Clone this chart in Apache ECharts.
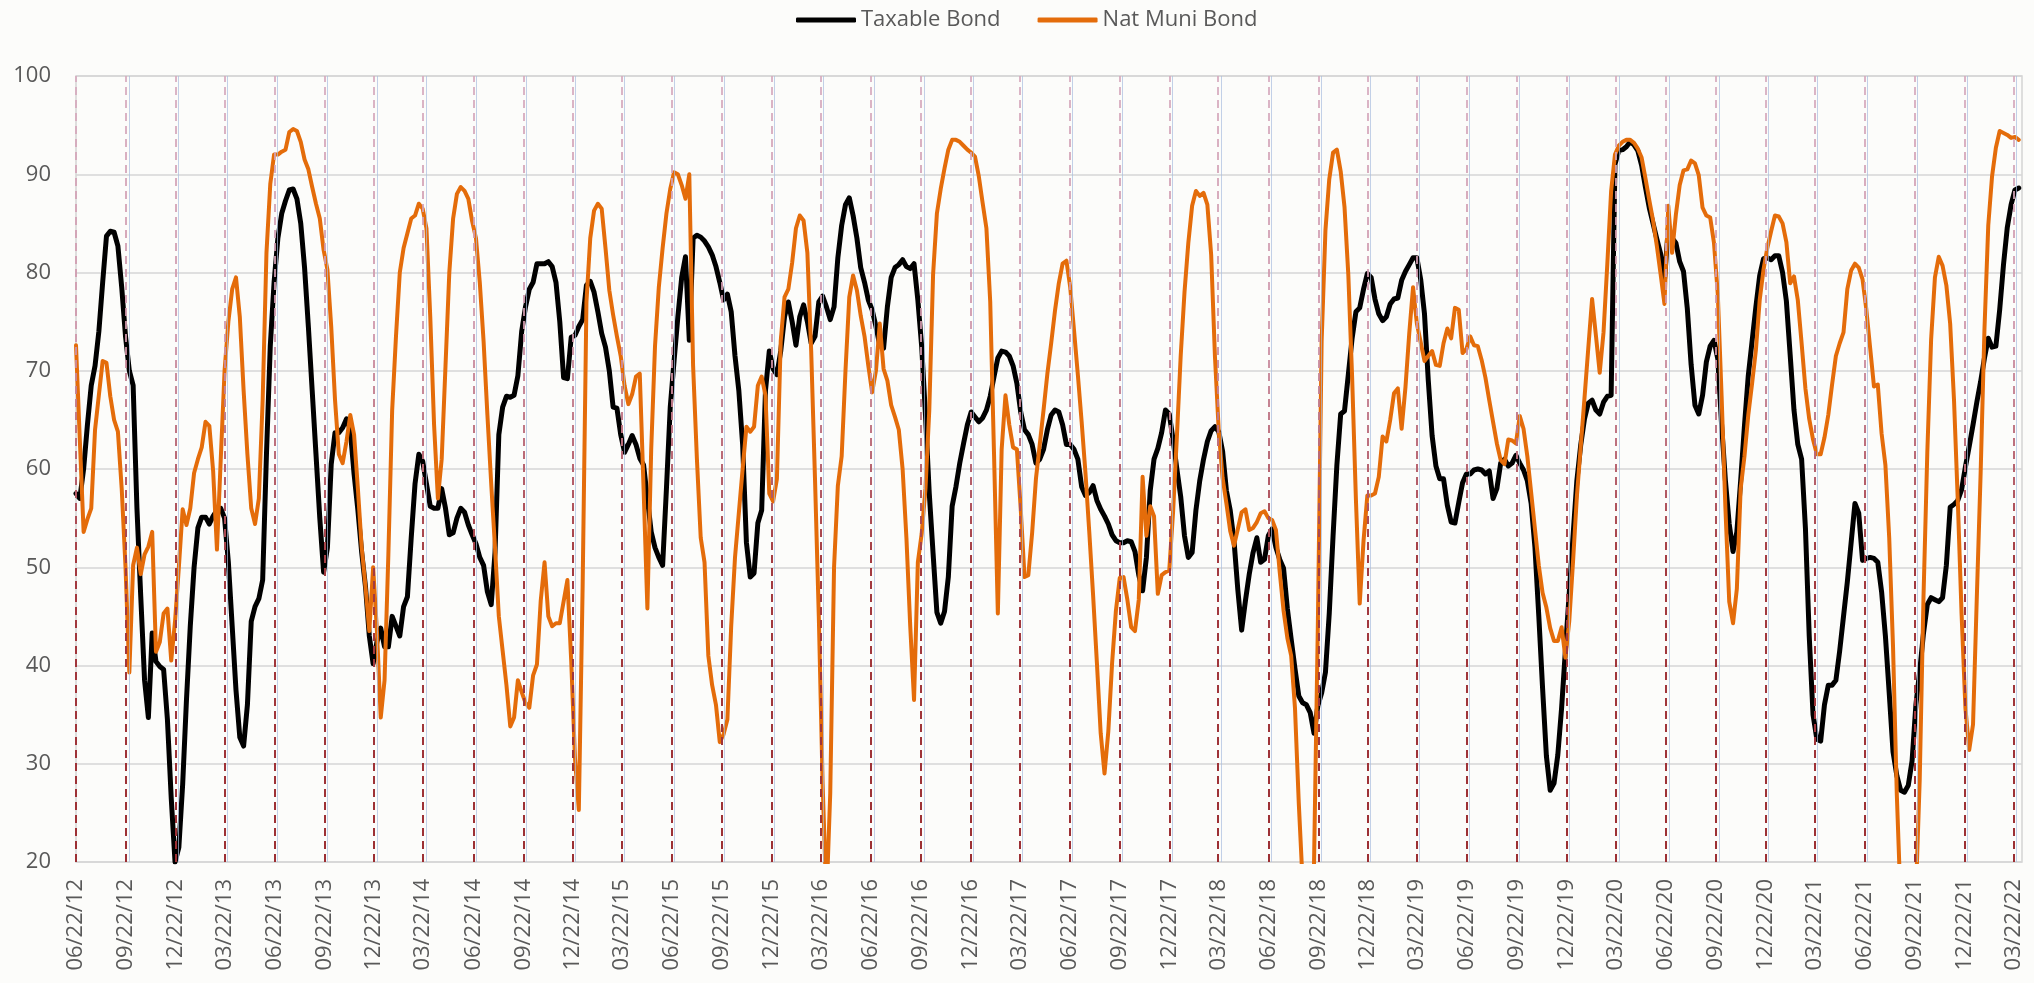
<!DOCTYPE html>
<html>
<head>
<meta charset="utf-8">
<script src="https://cdn.jsdelivr.net/npm/echarts@6/dist/echarts.min.js"></script>
<style>
html,body{margin:0;padding:0;background:#fcfcfa;}
#chart{width:2034px;height:983px;}
</style>
</head>
<body>
<div id="chart"></div>
<script>
// ---- data ----
const seriesNames = ['Taxable Bond', 'Nat Muni Bond'];
const firstWeek = '06/22/12';          // weekly observations start here
const axisEnd = '04/07/22';
const quarterLabels = ['06/22/12','09/22/12','12/22/12','03/22/13','06/22/13','09/22/13','12/22/13','03/22/14','06/22/14','09/22/14','12/22/14','03/22/15','06/22/15','09/22/15','12/22/15','03/22/16','06/22/16','09/22/16','12/22/16','03/22/17','06/22/17','09/22/17','12/22/17','03/22/18','06/22/18','09/22/18','12/22/18','03/22/19','06/22/19','09/22/19','12/22/19','03/22/20','06/22/20','09/22/20','12/22/20','03/22/21','06/22/21','09/22/21','12/22/21','03/22/22'];
const yTicks = [20,30,40,50,60,70,80,90,100];

const taxableBond = [
57.5,57.0,60,64.5,68.5,70.5,74,79,83.7,84.2,84.1,82.7,78.5,73.5,70,68.5,56,47,38.5,34.7,
43.3,40.4,39.9,39.6,34.5,26.5,20,21.5,27.9,36.5,44,50,54,55.1,55.1,54.4,55.2,55.8,56,55,
50.5,44,37.5,32.7,31.8,36,44.5,46,46.8,48.7,61.5,72.5,79,83.5,86,87.3,88.4,88.5,87.5,85,
80.5,74.5,68,61.5,55,49.5,52,60.5,63.7,63.7,64.2,65.1,64,59.5,55.8,51.5,48,43,40.2,42.4,
43.8,41.9,41.9,45,44,43,46,47,53,58.5,61.5,60.8,58.5,56.2,56,56,58,56,53.3,53.5,
55,56,55.6,54.3,53.3,52.4,51,50.2,47.5,46.2,51.5,63.5,66.3,67.4,67.3,67.5,69.5,74,76.5,78.3,
79,80.9,80.9,80.9,81.1,80.6,79,75,69.3,69.2,73.4,73.6,74.5,75.2,78.7,79.1,78,76,73.8,72.4,
70,66.3,66.2,63.5,61.7,62.5,63.4,62.5,61.1,60.4,57,53.6,52,51,50.2,58,66.3,71,75.5,79.5,
81.6,73.1,83.5,83.8,83.6,83.2,82.6,81.8,80.6,79,77.2,77.8,76,71.5,68,62.5,52.5,49,49.4,54.5,
55.8,68,72,70.2,69.6,72,75.5,77,75,72.6,75.5,76.7,75,72.8,73.5,77,77.6,76.5,75.2,76.5,
81.5,84.8,86.9,87.6,85.8,83.5,80.5,79,77.2,76.2,74.5,72.6,72.3,76.5,79.5,80.5,80.8,81.3,80.6,80.4,
80.9,77.2,72.5,65.5,57.5,51.4,45.4,44.3,45.5,49,56.2,58.2,60.6,62.6,64.5,65.8,65.3,64.8,65.2,66,
67.4,69.4,71.3,72,71.9,71.5,70.5,68.7,65.8,64,63.5,62.5,60.6,
61,62,64,65.5,66,65.8,64.5,62.5,62.5,62,
61,58.2,57.3,57.6,58.3,56.8,55.9,55.2,54.4,53.3,
52.7,52.5,52.5,52.7,52.6,51.6,49.2,47.6,51,57.8,
61,62.1,63.7,66,65.6,63,60,57.2,53.2,51,
51.5,55.8,58.8,61,62.8,63.9,64.3,63.8,61.8,57.8,
55.8,52.7,47.7,43.6,46.6,49.3,51.5,53,50.5,50.8,
53.2,53.9,52,50.8,49.9,45.8,42.7,39.7,36.9,36.2,
36,35.2,33.1,35.9,37.2,39.3,45.3,53.2,60.4,65.6,
65.9,69.6,73.3,76,76.4,78.3,79.9,79.5,77.3,75.8,
75.1,75.5,76.8,77.3,77.4,79.2,80.1,80.8,81.5,81.5,
79.3,75.8,69,63.4,60.3,59,59,56.3,54.6,54.5,
56.6,58.6,59.5,59.5,59.9,60,59.9,59.5,59.8,57,
58,60.6,61,60.3,60.6,61.4,60.6,59.9,58.8,56.5,
52,45.1,37.7,30.8,27.3,28,30.9,35.7,41.6,47.4,
53.2,58.8,62.4,65.1,66.7,67,66,65.6,66.8,67.4,
67.5,91,92.4,92.5,92.8,93.3,93,92.4,90.9,88.7,
86.6,85,83.4,81.9,79.2,84.5,83.5,83,81.1,80.1,
76.3,70.6,66.5,65.6,67.5,70.9,72.5,73.1,71.2,64.5,
58.8,54.4,51.6,53.6,58.8,64.4,69.5,73,76.5,79.7,
81.4,81.5,81.3,81.7,81.7,80,77.1,71.6,66,62.5,
61,54,43,35,32.5,32.3,36,38,38,38.5,
41.5,45,48.5,52.5,56.5,55.5,50.7,50.9,51,50.9,
50.5,47.5,43,37.2,31.2,28.8,27.3,27.1,27.8,30.3,
36,39.4,43.3,46.2,46.9,46.7,46.5,46.9,50.2,56.1,
56.4,56.8,57.9,60.2,62.3,64.5,66.8,68.9,71.3,73.3,
72.4,72.5,76.2,80.8,84.6,86.9,88.4,88.6
];

const natMuniBond = [
72.6,63,53.6,54.9,56,64,67.5,71,70.8,67.4,65,63.8,58,50,39.3,50.2,52,49.3,51.3,52.1,
53.6,41.4,42.4,45.3,45.8,40.5,44.5,50,55.9,54.3,56,59.6,61,62.2,64.8,64.4,59.8,51.8,61,70,
75,78.3,79.5,75.5,68,61.5,56,54.4,57,67,82,89,92,92,92.3,92.5,94.3,94.6,94.4,93.3,
91.5,90.5,88.7,87,85.5,82.3,80.3,74.5,67,61.5,60.6,62.8,65.5,63.5,58,52,48,43.5,50,43.5,
34.7,38.5,51.3,66,73.5,80,82.5,84,85.5,85.8,87,86.5,84.5,75.5,64.5,57,61,70.5,80,85.5,
88,88.7,88.3,87.5,85.2,83.5,79,73,65.5,58.5,52,45,41.5,38,33.8,34.7,38.5,37.3,36.2,35.7,
39,40.1,46.6,50.5,45,44,44.3,44.3,46.5,48.7,40.5,30.5,25.3,48,77,83.5,86.3,87,86.5,82.5,
78.2,75.7,73.5,71.5,68.5,66.6,67.6,69.4,69.7,58,45.8,62,72.5,78.5,82.5,86,88.5,90.2,90,88.9,
87.5,90,70.5,61,53,50.5,41,38,36,32.2,33,34.5,44,51,55.5,60,64.3,63.8,64.3,68.5,
69.4,67.5,57.5,56.7,59,73,77.5,78.3,81,84.5,85.8,85.3,82,72,59,45,28,16,27,50,
58.3,61.3,70,77.5,79.7,78.2,75.6,73.5,70.5,67.8,70,74.8,70.2,69,66.5,65.3,64,60,53,44,
36.5,50.5,53.4,58,66,79.8,86,88.5,90.6,92.5,93.5,93.5,93.3,92.9,92.5,92.2,91.8,89.8,87.1,84.5,
77,61.5,45.3,62,67.5,64.5,62.2,62,56,49,49.2,53.5,59,
62.5,66,69.7,72.8,76.1,78.9,80.9,81.2,78.5,74.1,
69.6,64.8,59.6,53.6,47.2,40.3,33.1,29,33.3,40.3,
45.6,48.9,49,46.7,43.9,43.5,46.7,59.2,53.2,56.2,
55.2,47.3,49.2,49.5,49.7,55.6,63.3,71.5,78,83,
86.8,88.3,87.8,88.1,86.9,81.8,71.4,63.8,59.1,56.5,
53.7,52.2,53.9,55.6,55.9,53.8,54,54.6,55.5,55.7,
55,54.8,53.8,49.5,45.6,42.8,41,35.7,26,18,
14,14,19.8,44,73,84.3,89.5,92.2,92.5,90.3,
86.7,79.8,69.4,56.9,46.3,52.7,57.3,57.3,57.5,59.2,
63.3,62.8,65,67.7,68.2,64.1,68.3,73.8,78.5,74.8,
72.9,71,71.5,72,70.6,70.5,72.8,74.3,73.3,76.4,
76.2,71.8,72.2,73.5,72.6,72.5,71.1,69.3,67,64.8,
62.6,60.9,60.5,63,62.9,62.6,65.4,64.1,61.3,57.6,
53.9,50.2,47.4,45.9,43.8,42.5,42.5,43.9,40.8,44.5,
50.6,57.2,62.2,67.2,72.3,77.3,73.6,69.8,73.9,80.9,
88.3,92,92.9,93.3,93.5,93.5,93.2,92.6,91.7,89.6,
87.4,85.3,82.7,79.8,76.8,86.8,82,85.9,88.9,90.4,
90.5,91.4,91.1,89.9,86.6,85.8,85.6,83,77.8,67.4,
56,46.5,44.3,47.8,58,61.3,65.5,68.7,72.1,77.2,
80.3,82.5,84.2,85.8,85.7,85,83.1,78.9,79.6,77.2,
72.8,68.2,65.1,63,61.5,61.5,63.2,65.5,68.6,71.5,
72.8,73.9,78.3,80.2,80.9,80.5,79.3,76.2,72.3,68.4,
68.6,63.6,60.4,53,41.9,26.8,15.9,14.7,14,14,
16.7,28.3,47,61.7,73.2,79.5,81.6,80.7,78.7,74.8,
67.1,56.8,45.2,35.7,31.4,34,47,59.6,74.2,84.8,
89.8,92.7,94.4,94.2,94,93.7,93.8,93.5
];

// ---- helpers ----
const DAY = 86400000;
function parseMDY(s) {
  const p = s.split('/').map(Number);
  return Date.UTC(2000 + p[2], p[0] - 1, p[1]);
}
function fmtMDY(t) {
  const d = new Date(t);
  const pad = n => (n < 10 ? '0' : '') + n;
  return pad(d.getUTCMonth() + 1) + '/' + pad(d.getUTCDate()) + '/' + pad(d.getUTCFullYear() % 100);
}
const t0 = parseMDY(firstWeek);
const nDays = Math.round((parseMDY(axisEnd) - t0) / DAY) + 1;
// one category per calendar day, so the axis behaves like a date axis
const dayCategories = [];
for (let i = 0; i < nDays; i++) dayCategories.push(fmtMDY(t0 + i * DAY));
const labelSet = new Set(quarterLabels);
const dayIndexOf = s => Math.round((parseMDY(s) - t0) / DAY);
const toPairs = vals => vals.map((v, i) => [i * 7, v]);

const fontFamily = '"Open Sans", "Noto Sans", sans-serif';
const gridTop = 76, gridBottomPx = 862;

const redDash = new echarts.graphic.LinearGradient(0, gridTop, 0, gridBottomPx, [
  { offset: 0, color: 'rgba(214,170,190,0.85)' },
  { offset: 0.33, color: 'rgba(206,150,170,0.9)' },
  { offset: 0.5, color: '#b76470' },
  { offset: 0.62, color: '#a33a40' },
  { offset: 1, color: '#9c2f33' }
], true);

const chart = echarts.init(document.getElementById('chart'), null, { renderer: 'canvas' });

chart.setOption({
  animation: false,
  backgroundColor: '#fcfcfa',
  textStyle: { fontFamily: fontFamily },
  legend: {
    data: seriesNames,
    left: 791,
    top: 4,
    itemWidth: 60,
    itemHeight: 5,
    itemGap: 37,
    icon: 'roundRect',
    textStyle: { fontSize: 22, color: '#595959', fontFamily: fontFamily }
  },
  grid: {
    left: 76, right: 12, top: gridTop, bottom: 983 - gridBottomPx,
    show: true, borderColor: '#d3d3d3', borderWidth: 1.5, backgroundColor: 'transparent'
  },
  xAxis: {
    type: 'category',
    data: dayCategories,
    boundaryGap: false,
    axisLine: { show: false },
    axisTick: { show: false },
    splitLine: { show: false },
    axisLabel: {
      interval: function (index, value) { return labelSet.has(value); },
      rotate: 90,
      fontSize: 22,
      color: '#595959',
      margin: 17,
      hideOverlap: false
    }
  },
  yAxis: {
    type: 'value',
    min: yTicks[0],
    max: yTicks[yTicks.length - 1],
    interval: 10,
    axisLine: { show: false },
    axisTick: { show: false },
    axisLabel: { fontSize: 22, color: '#595959', margin: 25 },
    splitLine: { lineStyle: { color: '#d6d6d6', width: 1.5 } }
  },
  series: [
    {
      name: '_grid',
      type: 'line',
      data: [],
      z: 1,
      silent: true,
      markLine: {
        silent: true,
        symbol: ['none', 'none'],
        label: { show: false },
        emphasis: { disabled: true },
        lineStyle: { color: 'rgba(170,190,222,0.7)', width: 1, type: 'solid' },
        data: quarterLabels.slice(1).map(s => ({ xAxis: dayIndexOf(s) + 5 }))
      }
    },
    {
      name: '_quarters',
      type: 'line',
      data: [],
      z: 1,
      silent: true,
      markLine: {
        silent: true,
        symbol: ['none', 'none'],
        label: { show: false },
        emphasis: { disabled: true },
        lineStyle: { color: redDash, width: 2, type: [8, 5] },
        data: quarterLabels.map(s => ({ xAxis: dayIndexOf(s) }))
      }
    },
    {
      name: seriesNames[0],
      type: 'line',
      data: toPairs(taxableBond),
      showSymbol: false,
      symbol: 'none',
      z: 3,
      color: '#000000',
      lineStyle: { color: '#000000', width: 5, cap: 'round', join: 'round' }
    },
    {
      name: seriesNames[1],
      type: 'line',
      data: toPairs(natMuniBond),
      showSymbol: false,
      symbol: 'none',
      z: 4,
      color: '#e46c0a',
      lineStyle: { color: '#e46c0a', width: 4, cap: 'round', join: 'round' }
    }
  ]
});
</script>
</body>
</html>
